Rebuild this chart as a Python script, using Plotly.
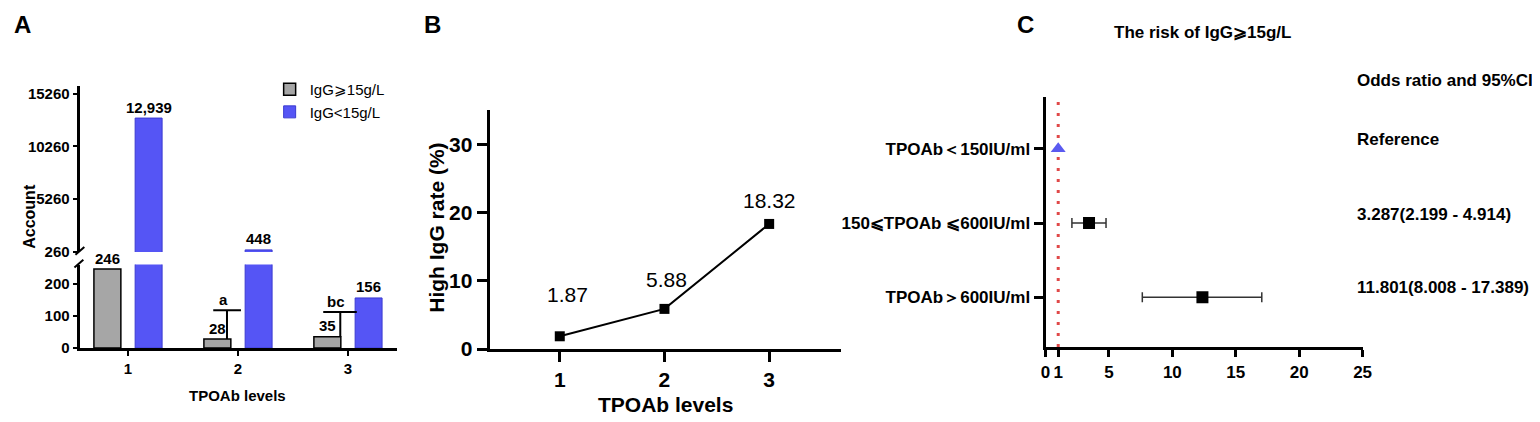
import plotly.graph_objects as go

# ---------------- data ----------------
levels = [1, 2, 3]
igg_high_counts = [246, 28, 35]          # IgG >= 15 g/L
igg_low_counts = [12939, 448, 156]       # IgG < 15 g/L
sig_labels = ["", "a", "bc"]
count_ticks_low = [0, 100, 200]
count_ticks_high = [260, 5260, 10260, 15260]

high_igg_rate = [1.87, 5.88, 18.32]
rate_ticks = [0, 10, 20, 30]

or_groups = ["TPOAb＜150IU/ml", "150⩽TPOAb ⩽600IU/ml", "TPOAb＞600IU/ml"]
or_point = [1.0, 3.43, 12.37]
or_low = [None, 2.08, 7.63]
or_high = [None, 4.77, 17.05]
or_text = ["Reference", "3.287(2.199 - 4.914)", "11.801(8.008 - 17.389)"]
or_ticks = [0, 1, 5, 10, 15, 20, 25]

legend_names = ["IgG⩾15g/L", "IgG<15g/L"]

# ---------------- helpers ----------------
W, H = 1540, 422
FONT = "Liberation Sans, Arial, Helvetica, sans-serif"


def px(x):
    return x / W


def py(y):
    return 1 - y / H


BLACK = "#000000"
GRAY = "#a6a6a6"
BLUE = "#5555f5"
BREAK = 260

fig = go.Figure()
annotations = []
shapes = []


def paper_text(x, y, text, font, angle=0, xanchor="center"):
    annotations.append(dict(x=px(x), y=py(y), xref="paper", yref="paper", text=text,
                            textangle=angle, showarrow=False, font=font,
                            xanchor=xanchor, yanchor="middle"))


# ---------------- Panel A : broken-axis bars ----------------
BAR_W = 0.245
GRAY_OFF = -0.31
BLUE_OFF = 0.065
for yax, show in (("y", True), ("y2", False)):
    if yax == "y":
        g_vals, b_vals = igg_high_counts, igg_low_counts
    else:
        g_vals = [v if v > BREAK else None for v in igg_high_counts]
        b_vals = [v if v > BREAK else None for v in igg_low_counts]
    fig.add_trace(go.Bar(
        x=levels, y=g_vals, name=legend_names[0], xaxis="x", yaxis=yax,
        width=BAR_W, offset=GRAY_OFF, showlegend=show, legendgroup="g",
        marker=dict(color=GRAY, line=dict(color=BLACK, width=1.5))))
    fig.add_trace(go.Bar(
        x=levels, y=b_vals, name=legend_names[1], xaxis="x", yaxis=yax,
        width=BAR_W, offset=BLUE_OFF, showlegend=show, legendgroup="b",
        marker=dict(color=BLUE, line=dict(color="#3a3ad0", width=1))))

fA = dict(family=FONT, size=15, color=BLACK, weight="bold")

for i, lv in enumerate(levels):
    for vals, off in ((igg_high_counts, GRAY_OFF), (igg_low_counts, BLUE_OFF)):
        v = vals[i]
        annotations.append(dict(
            x=lv + off + BAR_W / 2, y=v, xref="x", yref="y2" if v > BREAK else "y",
            text=f"{v:,}", showarrow=False, yshift=11, font=fA,
            xanchor="center", yanchor="middle"))

# significance markers
for i, lab in enumerate(sig_labels):
    if not lab:
        continue
    lv = levels[i]
    top = 118 if i == 1 else 112
    x_v = lv - 0.10 if i == 1 else lv - 0.07
    x0 = lv - 0.225
    x1 = lv + (0.027 if i == 1 else 0.08)
    shapes.append(dict(type="line", xref="x", yref="y", x0=x0, x1=x1, y0=top, y1=top,
                       line=dict(color=BLACK, width=2)))
    shapes.append(dict(type="line", xref="x", yref="y", x0=x_v, x1=x_v,
                       y0=igg_high_counts[i], y1=top, line=dict(color=BLACK, width=2)))
    annotations.append(dict(x=lv - (0.135 if i == 1 else 0.11), y=top, xref="x", yref="y",
                            text=lab, showarrow=False, yshift=11, font=fA,
                            xanchor="center", yanchor="middle"))

# axis break marks
shapes.append(dict(type="line", xref="paper", yref="paper",
                   x0=px(63), y0=py(253), x1=px(72), y1=py(245),
                   line=dict(color=BLACK, width=2)))
shapes.append(dict(type="line", xref="paper", yref="paper",
                   x0=px(62), y0=py(266), x1=px(71), y1=py(258),
                   line=dict(color=BLACK, width=2)))

axA_common = dict(showline=True, linecolor=BLACK, linewidth=2.5, ticks="outside",
                  ticklen=5, tickwidth=2, tickcolor=BLACK, showgrid=False, zeroline=False,
                  tickfont=fA)

fig.update_layout(
    xaxis=dict(domain=[px(68), px(388)], range=[0.567, 3.45], anchor="y",
               tickvals=levels, ticktext=[str(v) for v in levels], **axA_common),
    yaxis=dict(domain=[py(349), py(263)], range=[0, BREAK], anchor="x",
               tickvals=count_ticks_low, ticktext=[str(v) for v in count_ticks_low],
               **axA_common),
    yaxis2=dict(domain=[py(250), py(79)], range=[BREAK, 16000], anchor="x",
                tickvals=count_ticks_high, ticktext=[str(v) for v in count_ticks_high],
                **axA_common),
)

paper_text(17, 213, "Account", dict(family=FONT, size=16, weight="bold", color=BLACK), angle=-90)
paper_text(227, 398, "TPOAb levels", fA)

# ---------------- Panel B : line chart ----------------
fB = dict(family=FONT, size=21, color=BLACK, weight="bold")
fig.add_trace(go.Scatter(
    x=levels, y=high_igg_rate, xaxis="x2", yaxis="y3", mode="lines+markers",
    line=dict(color=BLACK, width=2), marker=dict(symbol="square", size=10, color=BLACK),
    showlegend=False, cliponaxis=False))

label_shift = [(8, 42), (2, 29), (0, 23)]
for lv, v, (dx, dy) in zip(levels, high_igg_rate, label_shift):
    annotations.append(dict(x=lv, y=v, xref="x2", yref="y3", text=f"{v:.2f}",
                            showarrow=False, xshift=dx, yshift=dy,
                            xanchor="center", yanchor="middle",
                            font=dict(family=FONT, size=21, color=BLACK)))

axB_common = dict(showline=True, linecolor=BLACK, linewidth=3, ticks="outside",
                  ticklen=10, tickwidth=3, tickcolor=BLACK, showgrid=False, zeroline=False,
                  tickfont=fB)
fig.update_layout(
    xaxis2=dict(domain=[px(481), px(836)], range=[0.33, 3.69], anchor="y3",
                tickvals=levels, ticktext=[str(v) for v in levels], **axB_common),
    yaxis3=dict(domain=[py(350), py(104)], range=[0, 35], anchor="x2",
                tickvals=rate_ticks, ticktext=[str(v) for v in rate_ticks], **axB_common),
)
paper_text(427, 225, "High IgG rate (%)", fB, angle=-90)
paper_text(658, 407, "TPOAb levels", fB)

# ---------------- Panel C : forest plot ----------------
fC = dict(family=FONT, size=17, color=BLACK, weight="bold")
rows = [3, 2, 1]

shapes.append(dict(type="line", xref="x3", yref="y4 domain", x0=1, x1=1, y0=0, y1=1,
                   line=dict(color="#e04848", width=3, dash="3px,8px"), layer="below"))

fig.add_trace(go.Scatter(
    x=[or_point[0]], y=[rows[0]], xaxis="x3", yaxis="y4", mode="markers",
    marker=dict(symbol="triangle-up", size=13, color="#5a5af0"), showlegend=False))

fig.add_trace(go.Scatter(
    x=or_point[1:], y=rows[1:], xaxis="x3", yaxis="y4", mode="markers",
    marker=dict(symbol="square", size=12, color=BLACK),
    error_x=dict(type="data", symmetric=False,
                 array=[h - p for h, p in zip(or_high[1:], or_point[1:])],
                 arrayminus=[p - l for l, p in zip(or_low[1:], or_point[1:])],
                 color="#333333", thickness=1.5, width=5),
    showlegend=False))

axC_common = dict(showline=True, linecolor=BLACK, linewidth=3, ticks="outside",
                  tickwidth=2.5, tickcolor=BLACK, showgrid=False, zeroline=False, tickfont=fC)
fig.update_layout(
    xaxis3=dict(domain=[px(1042), px(1362)], range=[0, 25], anchor="y4",
                tickvals=or_ticks, ticktext=[str(v) for v in or_ticks], ticklen=7,
                **axC_common),
    yaxis4=dict(domain=[py(348), py(91)], range=[0.33, 3.69], anchor="x3",
                tickvals=rows, ticktext=or_groups, ticklen=9, **axC_common),
)

paper_text(1200, 24, "The risk of IgG⩾15g/L", fC)
paper_text(1354, 74, "Odds ratio and 95%CI", fC, xanchor="left")
for t, yy in zip(or_text, [134, 211, 287]):
    paper_text(1354, yy, t, fC, xanchor="left")

# ---------------- panel letters ----------------
fL = dict(family=FONT, size=24, color=BLACK, weight="bold")
for letter, xx in (("A", 10), ("B", 423), ("C", 1022)):
    paper_text(xx, 16, letter, fL)

fig.update_layout(
    width=W, height=H, margin=dict(l=0, r=0, t=0, b=0),
    paper_bgcolor="white", plot_bgcolor="white",
    barmode="overlay",
    font=dict(family=FONT, color=BLACK),
    legend=dict(x=px(259), y=py(66), xanchor="left", yanchor="top",
                font=dict(family=FONT, size=15, color=BLACK), bgcolor="rgba(0,0,0,0)",
                tracegroupgap=0, itemwidth=30),
    annotations=annotations, shapes=shapes,
)

fig.write_html("out.html")
